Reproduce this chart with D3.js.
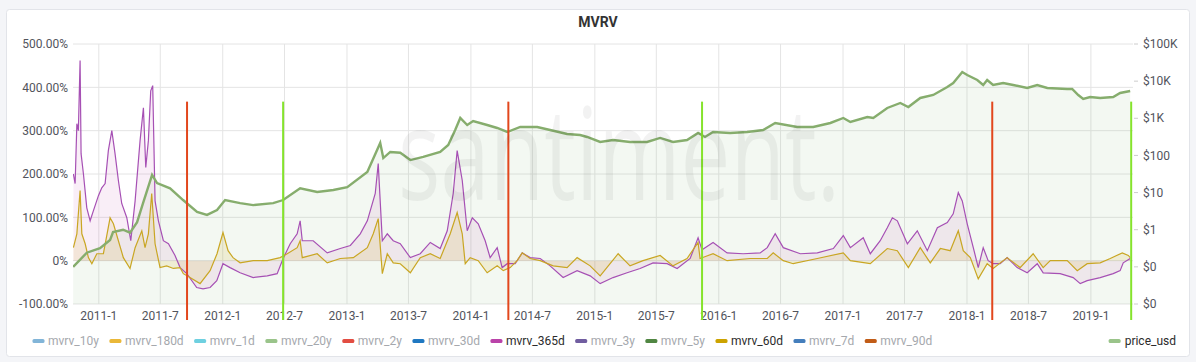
<!DOCTYPE html>
<html>
<head>
<meta charset="utf-8">
<title>MVRV</title>
<style>
body{
    margin:0;
    background:#f4f5f8;
    font-family: Roboto, "Noto Sans", sans-serif;
}
#chart{ display:block; }
.tick-label{ fill:#52545c; font-size:12px; }
.legend-text{ font-size:12px; }
</style>
</head>
<body>
<svg id="chart"></svg>
<script src="https://cdn.jsdelivr.net/npm/d3@7/dist/d3.min.js"></script>
<script>
// values: [decimal year, value]
var priceUsd = [
 [2010.793,0.1],[2010.903,0.24],[2011.010,0.32],[2011.091,0.53],[2011.115,0.87],[2011.196,1.0],
 [2011.252,0.83],[2011.309,1.6],[2011.357,5.2],[2011.430,30],[2011.470,18],[2011.575,13],
 [2011.680,6.3],[2011.793,3.0],[2011.873,2.5],[2011.954,3.4],[2012.019,6.3],[2012.140,5.2],
 [2012.245,4.6],[2012.406,5.2],[2012.486,6.3],[2012.623,13],[2012.760,10.4],[2012.890,11.7],
 [2013.002,14],[2013.164,36],[2013.268,216],[2013.293,85],[2013.349,124],[2013.430,118],
 [2013.511,75],[2013.615,91],[2013.752,124],[2013.817,191],[2013.873,484],[2013.914,1020],
 [2013.970,660],[2014.018,846],[2014.131,660],[2014.212,548],[2014.293,428],[2014.398,583],
 [2014.535,583],[2014.639,484],[2014.776,378],[2014.881,355],[2014.938,314],[2015.043,230],
 [2015.147,260],[2015.284,230],[2015.422,230],[2015.527,295],[2015.631,230],[2015.744,260],
 [2015.833,402],[2015.889,314],[2015.954,428],[2016.091,402],[2016.228,428],[2016.357,484],
 [2016.454,747],[2016.631,583],[2016.760,583],[2016.898,747],[2017.002,1020],[2017.059,795],
 [2017.196,1084],[2017.244,1020],[2017.357,1893],[2017.462,2582],[2017.527,2014],[2017.623,3521],
 [2017.728,4240],[2017.841,6970],[2017.889,8920],[2017.962,17650],[2018.002,14650],[2018.083,10740],
 [2018.131,7880],[2018.163,10740],[2018.211,7880],[2018.292,8920],[2018.373,7880],[2018.486,6540],
 [2018.567,7880],[2018.648,6540],[2018.809,6150],[2018.849,6150],[2018.898,4240],[2018.938,3310],
 [2018.994,3745],[2019.075,3521],[2019.180,3745],[2019.236,4800],[2019.317,5430]
];
var mvrv365d = [
 [2010.795,200],[2010.809,178],[2010.823,316],[2010.835,300],[2010.849,462],[2010.857,247],
 [2010.876,200],[2010.903,122],[2010.930,92],[2010.956,115],[2010.997,150],[2011.024,168],
 [2011.051,178],[2011.077,254],[2011.105,300],[2011.131,247],[2011.158,185],[2011.185,132],
 [2011.226,99],[2011.258,46],[2011.293,138],[2011.333,277],[2011.360,353],[2011.379,215],
 [2011.400,277],[2011.419,392],[2011.435,404],[2011.454,138],[2011.481,92],[2011.521,46],
 [2011.562,39],[2011.615,12],[2011.656,-16],[2011.710,-30],[2011.790,-62],[2011.841,-65],
 [2011.898,-62],[2011.952,-46],[2012.002,-7],[2012.059,-16],[2012.140,-28],[2012.245,-39],
 [2012.358,-35],[2012.438,-30],[2012.486,5],[2012.543,39],[2012.599,62],[2012.623,92],
 [2012.640,46],[2012.728,46],[2012.841,18],[2012.946,28],[2013.027,35],[2013.107,62],
 [2013.164,92],[2013.228,155],[2013.252,224],[2013.285,46],[2013.325,62],[2013.373,46],
 [2013.430,39],[2013.511,7],[2013.591,16],[2013.672,42],[2013.752,28],[2013.809,69],
 [2013.857,155],[2013.889,254],[2013.930,185],[2013.970,69],[2014.011,99],[2014.059,85],
 [2014.115,46],[2014.155,7],[2014.212,30],[2014.252,-16],[2014.293,-7],[2014.357,-7],
 [2014.414,18],[2014.478,7],[2014.559,5],[2014.639,-12],[2014.744,-39],[2014.857,-23],
 [2014.962,-35],[2015.043,-53],[2015.147,-39],[2015.260,-28],[2015.365,-18],[2015.470,-5],
 [2015.583,-7],[2015.664,-18],[2015.769,5],[2015.833,53],[2015.865,25],[2015.954,42],
 [2016.067,18],[2016.196,16],[2016.333,18],[2016.390,30],[2016.454,62],[2016.519,30],
 [2016.656,16],[2016.793,18],[2016.922,28],[2017.002,58],[2017.059,30],[2017.163,53],
 [2017.220,16],[2017.300,46],[2017.357,76],[2017.398,99],[2017.438,92],[2017.519,39],
 [2017.599,69],[2017.680,23],[2017.761,76],[2017.841,88],[2017.889,108],[2017.930,157],
 [2017.962,138],[2018.002,85],[2018.051,30],[2018.091,-16],[2018.131,30],[2018.171,0],
 [2018.211,-7],[2018.268,-7],[2018.324,7],[2018.405,-16],[2018.486,-28],[2018.567,-7],
 [2018.615,-28],[2018.752,-30],[2018.857,-39],[2018.914,-53],[2018.970,-46],[2019.075,-39],
 [2019.180,-30],[2019.236,-23],[2019.261,-5],[2019.317,5]
];
var mvrv60d = [
 [2010.795,30],[2010.823,62],[2010.849,162],[2010.863,62],[2010.890,39],[2010.916,7],
 [2010.944,-7],[2010.984,16],[2011.037,16],[2011.091,99],[2011.118,85],[2011.158,46],
 [2011.198,7],[2011.252,-18],[2011.293,30],[2011.347,69],[2011.373,30],[2011.400,62],
 [2011.427,155],[2011.454,39],[2011.494,-16],[2011.548,-12],[2011.602,-18],[2011.656,-16],
 [2011.682,-30],[2011.736,-39],[2011.817,-53],[2011.898,-23],[2011.954,16],[2012.002,65],
 [2012.043,23],[2012.083,7],[2012.140,-5],[2012.245,0],[2012.358,0],[2012.462,7],
 [2012.519,16],[2012.599,30],[2012.623,46],[2012.640,7],[2012.760,16],[2012.841,-5],
 [2012.946,5],[2013.051,7],[2013.164,30],[2013.212,62],[2013.252,97],[2013.285,-30],
 [2013.325,16],[2013.373,-5],[2013.430,-7],[2013.511,-28],[2013.591,7],[2013.672,16],
 [2013.752,5],[2013.833,62],[2013.889,111],[2013.930,62],[2013.954,-7],[2013.994,7],
 [2014.059,0],[2014.131,-28],[2014.212,-12],[2014.261,-23],[2014.317,-16],[2014.373,0],
 [2014.414,18],[2014.478,5],[2014.559,0],[2014.664,-12],[2014.776,-16],[2014.857,7],
 [2014.962,-12],[2015.043,-35],[2015.123,-7],[2015.188,16],[2015.284,-12],[2015.389,0],
 [2015.527,12],[2015.631,-12],[2015.744,5],[2015.833,42],[2015.849,5],[2015.954,16],
 [2016.067,0],[2016.252,5],[2016.390,5],[2016.438,18],[2016.519,0],[2016.599,-7],
 [2016.793,5],[2017.002,18],[2017.059,0],[2017.220,-7],[2017.357,28],[2017.438,23],
 [2017.527,-16],[2017.623,30],[2017.704,-5],[2017.785,28],[2017.865,23],[2017.930,69],
 [2017.970,23],[2018.027,7],[2018.091,-42],[2018.163,-7],[2018.211,-18],[2018.324,7],
 [2018.429,-16],[2018.534,16],[2018.615,-16],[2018.672,0],[2018.809,0],[2018.890,-23],
 [2018.970,-7],[2019.075,-5],[2019.156,5],[2019.253,18],[2019.302,12],[2019.317,7]
];
// annotation lines (decimal year)
var redLines = [2011.712, 2014.302, 2018.204];
var greenLines = [2012.486, 2015.865, 2019.325];

var leftTicks = [-100, 0, 100, 200, 300, 400, 500];
var rightTicks = [0.01, 0.1, 1, 10, 100, 1000, 10000, 100000];
var rightLabels = ["$0", "$0", "$1", "$10", "$100", "$1K", "$10K", "$100K"];

var legendNames = ["mvrv_10y","mvrv_180d","mvrv_1d","mvrv_20y","mvrv_2y","mvrv_30d",
    "mvrv_365d","mvrv_3y","mvrv_5y","mvrv_60d","mvrv_7d","mvrv_90d"];
var legendColors = ["#82b5d8","#eab839","#6ed0e0","#9ac48a","#e24d42","#1f78c1",
    "#ba43a9","#705da0","#508642","#cca300","#447ebc","#c15c17"];
var legendActive = ["mvrv_365d","mvrv_60d"];

var W = 1196, H = 362;
var margin = {top: 44, right: 63, bottom: 58, left: 73};
var plotW = W - margin.left - margin.right,
    plotH = H - margin.top - margin.bottom;

function fromYear(t){
    var y = Math.floor(t);
    var a = new Date(y, 0, 1).getTime(), b = new Date(y + 1, 0, 1).getTime();
    return new Date(a + (t - y) * (b - a));
}

var svg = d3.select("#chart").attr("width", W).attr("height", H);

// panel
svg.append("rect")
    .attr("x", 6.5).attr("y", 9.5)
    .attr("width", 1183).attr("height", 347)
    .attr("rx", 3)
    .attr("fill", "#fff")
    .attr("stroke", "#e2e4e9");

svg.append("text")
    .attr("x", 598).attr("y", 27)
    .attr("text-anchor", "middle")
    .attr("font-size", "14px")
    .attr("font-weight", "bold")
    .attr("fill", "#333")
    .text("MVRV");

var x = d3.scaleTime()
    .domain([new Date(2010, 9, 17), new Date(2019, 4, 5)])
    .range([0, plotW]);
var yL = d3.scaleLinear().domain([-100, 500]).range([plotH, 0]);
var yR = d3.scaleLog().domain([0.01, 100000]).range([plotH, 0]);

var g = svg.append("g")
    .attr("transform", "translate(" + margin.left + "," + margin.top + ")");

g.append("clipPath").attr("id", "clip")
    .append("rect").attr("width", plotW).attr("height", plotH);

// grid
var xTicks = x.ticks(d3.timeMonth.every(6));
g.append("g").selectAll("line")
    .data(xTicks).enter().append("line")
    .attr("x1", function(d){ return x(d); })
    .attr("x2", function(d){ return x(d); })
    .attr("y1", 0).attr("y2", plotH)
    .attr("stroke", "#e4e4e4");
g.append("g").selectAll("line")
    .data(leftTicks).enter().append("line")
    .attr("x1", 0).attr("x2", plotW)
    .attr("y1", function(d){ return yL(d); })
    .attr("y2", function(d){ return yL(d); })
    .attr("stroke", "#e4e4e4");

// axis labels
g.append("g").selectAll("text")
    .data(leftTicks).enter().append("text")
    .attr("class", "tick-label")
    .attr("x", -5)
    .attr("y", function(d){ return yL(d); })
    .attr("dy", "0.35em")
    .attr("text-anchor", "end")
    .text(function(d){ return d === 0 ? "0%" : d.toFixed(2) + "%"; });

g.append("g").selectAll("line")
    .data(rightTicks).enter().append("line")
    .attr("x1", plotW + 1).attr("x2", plotW + 5)
    .attr("y1", function(d){ return yR(d); })
    .attr("y2", function(d){ return yR(d); })
    .attr("stroke", "#ccc");
g.append("g").selectAll("text")
    .data(rightTicks).enter().append("text")
    .attr("class", "tick-label")
    .attr("x", plotW + 10)
    .attr("y", function(d){ return yR(d); })
    .attr("dy", "0.35em")
    .text(function(d, i){ return rightLabels[i]; });

var fmt = function(d){ return d.getFullYear() + "-" + (d.getMonth() + 1); };
g.append("g").selectAll("text")
    .data(xTicks).enter().append("text")
    .attr("class", "tick-label")
    .attr("x", function(d){ return x(d); })
    .attr("y", plotH + 16)
    .attr("text-anchor", "middle")
    .text(fmt);

var plot = g.append("g").attr("clip-path", "url(#clip)");

// price area + watermark
var priceArea = d3.area()
    .x(function(d){ return x(fromYear(d[0])); })
    .y0(plotH)
    .y1(function(d){ return yR(d[1]); });
plot.append("path").datum(priceUsd)
    .attr("d", priceArea)
    .attr("fill", "#7eb26d").attr("fill-opacity", 0.09);

svg.append("text")
    .attr("x", 398).attr("y", 200)
    .attr("font-family", "'Open Sans', sans-serif")
    .attr("font-weight", 400)
    .attr("font-size", 128)
    .attr("textLength", 442)
    .attr("lengthAdjust", "spacingAndGlyphs")
    .attr("fill", "#000").attr("fill-opacity", 0.05)
    .text("santiment.");

function mvrvArea(){
    return d3.area()
        .x(function(d){ return x(fromYear(d[0])); })
        .y0(yL(0))
        .y1(function(d){ return yL(d[1]); });
}
function mvrvLine(){
    return d3.line()
        .x(function(d){ return x(fromYear(d[0])); })
        .y(function(d){ return yL(d[1]); });
}
plot.append("path").datum(mvrv365d).attr("d", mvrvArea())
    .attr("fill", "#ba43a9").attr("fill-opacity", 0.09);
plot.append("path").datum(mvrv60d).attr("d", mvrvArea())
    .attr("fill", "#cca300").attr("fill-opacity", 0.12);
plot.append("path").datum(mvrv365d).attr("d", mvrvLine())
    .attr("fill", "none").attr("stroke", "#a650b4").attr("stroke-width", 1.2);
plot.append("path").datum(mvrv60d).attr("d", mvrvLine())
    .attr("fill", "none").attr("stroke", "#c9a623").attr("stroke-width", 1.2);

var priceLine = d3.line()
    .x(function(d){ return x(fromYear(d[0])); })
    .y(function(d){ return yR(d[1]); });
plot.append("path").datum(priceUsd).attr("d", priceLine)
    .attr("fill", "none").attr("stroke", "#86ad6d").attr("stroke-width", 2.4);

// vertical markers
function markers(list, color){
    g.append("g").selectAll("line")
        .data(list).enter().append("line")
        .attr("x1", function(d){ return x(fromYear(d)); })
        .attr("x2", function(d){ return x(fromYear(d)); })
        .attr("y1", yL(367)).attr("y2", plotH + 16)
        .attr("stroke", color).attr("stroke-width", 2);
}
markers(redLines, "#e2471d");
markers(greenLines, "#85e32c");

// legend
var lg = svg.append("g").attr("transform", "translate(0,341)");
var lx = 32.5;
legendNames.forEach(function(name, i){
    var on = legendActive.indexOf(name) >= 0;
    lg.append("rect")
        .attr("x", lx).attr("y", -2)
        .attr("width", 12).attr("height", 4).attr("rx", 1.5)
        .attr("fill", legendColors[i]);
    var t = lg.append("text")
        .attr("class", "legend-text")
        .attr("x", lx + 15.5).attr("dy", "0.35em")
        .attr("fill", on ? "#2b2b2b" : "#a5a8ad")
        .text(name);
    lx += 15.5 + t.node().getComputedTextLength() + 10.5;
});
var pt = lg.append("text")
    .attr("class", "legend-text")
    .attr("x", 1176).attr("dy", "0.35em")
    .attr("text-anchor", "end")
    .attr("fill", "#2b2b2b")
    .text("price_usd");
var pw = pt.node().getComputedTextLength();
lg.append("rect")
    .attr("x", 1176 - pw - 16).attr("y", -2)
    .attr("width", 12).attr("height", 4).attr("rx", 1.5)
    .attr("fill", "#9ac48a");
</script>
</body>
</html>
